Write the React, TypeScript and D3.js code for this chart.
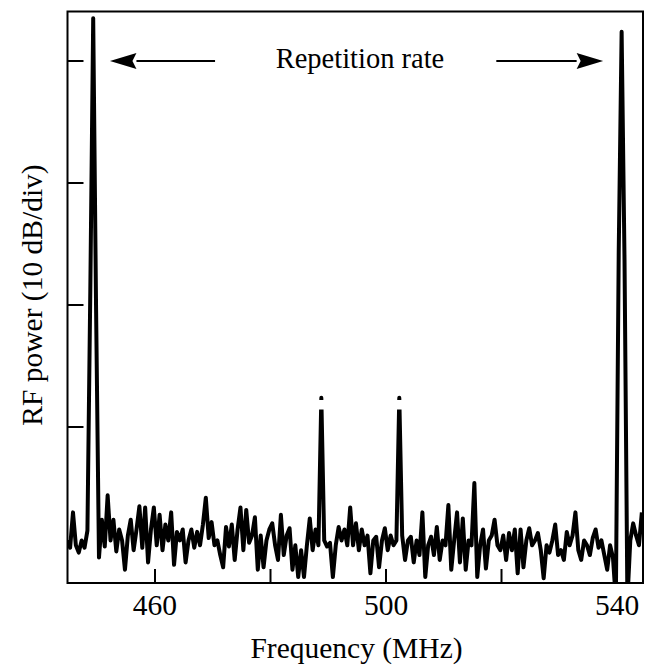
import React from "react";
import * as d3 from "d3";

// ---- data ----
const FREQ_START = 444.8; // MHz, first trace sample
const FREQ_STEP = 0.5; // MHz between trace samples
const POWER_DB: number[] = [
  -39.3, -39.9, -37.0, -39.7, -40.3, -39.3, -39.9, -38.5, -18.8, 3.5,
  -20.4, -40.7, -37.6, -39.8, -35.6, -39.3, -37.6, -40.2, -38.4, -39.3,
  -41.7, -38.9, -37.6, -40.1, -38.4, -36.5, -39.9, -36.6, -41.1, -38.4,
  -36.6, -39.7, -37.2, -40.1, -38.0, -39.3, -37.0, -41.3, -38.6, -39.3,
  -38.4, -41.1, -39.3, -38.4, -39.9, -38.6, -39.7, -38.0, -35.8, -39.1,
  -37.8, -39.7, -39.3, -40.5, -41.5, -38.2, -39.8, -38.0, -40.9, -38.4,
  -36.6, -40.1, -36.8, -39.5, -38.9, -37.4, -41.7, -38.9, -41.5, -39.3,
  -38.4, -37.9, -39.7, -40.9, -37.2, -40.5, -38.9, -38.3, -41.7, -39.7,
  -42.3, -40.1, -42.3, -39.7, -37.5, -40.1, -38.4, -39.7, -27.6, -39.3,
  -39.8, -39.5, -42.3, -39.7, -38.2, -39.3, -38.4, -39.7, -36.6, -39.7,
  -37.9, -40.1, -38.4, -39.7, -38.9, -42.0, -39.3, -39.0, -41.5, -39.3,
  -38.3, -40.1, -38.9, -39.7, -39.3, -27.6, -38.9, -40.9, -39.3, -39.0,
  -41.1, -39.3, -40.5, -37.0, -42.3, -39.7, -39.0, -40.5, -38.2, -40.9,
  -39.3, -39.7, -36.4, -41.7, -39.3, -37.0, -41.1, -37.5, -41.7, -39.3,
  -39.7, -34.6, -42.3, -39.7, -38.4, -41.6, -39.3, -38.9, -37.6, -39.7,
  -40.1, -38.9, -40.9, -38.7, -40.1, -38.4, -42.0, -38.4, -41.5, -39.3,
  -38.3, -39.7, -39.3, -38.7, -40.1, -42.4, -39.7, -40.3, -39.3, -38.0,
  -40.5, -40.1, -40.9, -38.6, -39.7, -38.9, -37.0, -40.1, -40.9, -39.3,
  -39.7, -40.5, -39.1, -38.4, -39.9, -39.3, -40.5, -41.7, -39.7, -40.7,
  -44.2, -15.5, 2.4, -16.3, -44.2, -39.3, -37.9, -38.9, -39.7, -37.0,
];
const Y_TICKS = [0, -10, -20, -30]; // dB, 10 dB/div
const X_TICKS = [460, 480, 500, 520, 540];
const X_TICK_LABELS = [460, 500, 540];
const CLIPPED_PEAKS = [488.8, 502.3]; // MHz, peaks whose tips are broken in the original
const ARROW_LEFT = [470.4, 452.2]; // from -> tip (MHz)
const ARROW_RIGHT = [519.1, 537.6];
const ARROW_LEVEL = 0; // dB

const W = 646;
const H = 666;
const L = 67.5;
const R = 643;
const T = 11.5;
const B = 583;
const FONT = '"Liberation Serif", "DejaVu Serif", serif';

export default function App() {
  const x = d3.scaleLinear().domain([444.85, 544.5]).range([L, R]);
  const y = d3.scaleLinear().domain([-42.79, 4.06]).range([B, T]);

  const pts = POWER_DB.map((v, i) => [FREQ_START + FREQ_STEP * i, v] as [number, number]);
  const line = d3
    .line<[number, number]>()
    .x((d) => x(d[0]))
    .y((d) => y(d[1]));

  const textStyle = (size: number): React.CSSProperties => ({ fontFamily: FONT, fontSize: size, fill: "#000" });

  const arrow = (from: number, to: number) => {
    const x0 = x(from);
    const x1 = x(to);
    const yy = y(ARROW_LEVEL);
    const dir = Math.sign(x1 - x0);
    const hl = 26.5;
    const hw = 8;
    const bx = x1 - dir * hl;
    return (
      <g>
        <line x1={x0} y1={yy} x2={bx} y2={yy} stroke="#000" strokeWidth={2} />
        <path d={`M${x1},${yy} L${bx},${yy - hw} L${bx + dir * 4},${yy} L${bx},${yy + hw} Z`} fill="#000" />
      </g>
    );
  };

  return (
    <svg width={W} height={H} style={{ position: "absolute", left: 0, top: 0, background: "#fff" }}>
      <defs>
        <clipPath id="plot">
          <rect x={L} y={T} width={R - L} height={B - T} />
        </clipPath>
      </defs>
      <rect x={0} y={0} width={W} height={H} fill="#fff" />
      <g clipPath="url(#plot)">
        <path d={line(pts) || ""} fill="none" stroke="#000" strokeWidth={4} strokeLinejoin="round" />
        {CLIPPED_PEAKS.map((f) => (
          <rect key={f} x={x(f) - 8} y={400} width={16} height={9.5} fill="#fff" />
        ))}
      </g>
      {Y_TICKS.map((t) => (
        <line key={t} x1={L} x2={L + 16} y1={y(t)} y2={y(t)} stroke="#000" strokeWidth={2} />
      ))}
      {X_TICKS.map((t) => (
        <line key={t} x1={x(t)} x2={x(t)} y1={B} y2={B - 14} stroke="#000" strokeWidth={2} />
      ))}
      <rect x={L} y={T} width={R - L} height={B - T} fill="none" stroke="#000" strokeWidth={2} />
      {X_TICK_LABELS.map((t) => (
        <text key={t} x={x(t)} y={615} textAnchor="middle" style={textStyle(29.5)}>
          {t}
        </text>
      ))}
      <text x={356.5} y={658} textAnchor="middle" style={textStyle(29.5)}>
        Frequency (MHz)
      </text>
      <text transform={`translate(41.5, 295) rotate(-90)`} textAnchor="middle" style={textStyle(29.5)}>
        RF power (10 dB/div)
      </text>
      {arrow(ARROW_LEFT[0], ARROW_LEFT[1])}
      {arrow(ARROW_RIGHT[0], ARROW_RIGHT[1])}
      <text x={360} y={68} textAnchor="middle" style={textStyle(28.5)}>
        Repetition rate
      </text>
    </svg>
  );
}
